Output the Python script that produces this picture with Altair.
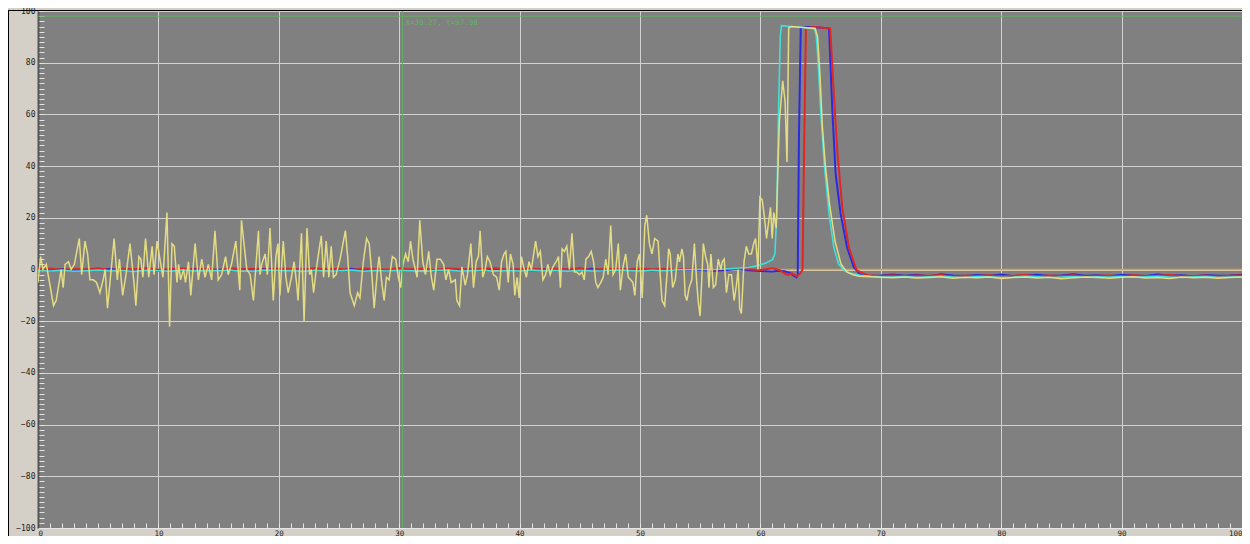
import altair as alt
import pandas as pd

# ---------------- data ----------------
pre_x = list(range(0, 58))
tail_x = list(range(70, 101))

blue_pre = [0.1, -0.3, 0.2, -0.5, 0.0, -0.2, 0.3, -0.4, -0.1, 0.2, -0.5, 0.1, -0.3, 0.3, -0.2,
            0.0, -0.4, 0.2, -0.1, 0.3, -0.5, 0.0, 0.2, -0.3, 0.1, -0.4, 0.3, -0.2, 0.0, -0.5,
            0.2, -0.1, 0.3, -0.4, 0.0, -0.2, 0.1, -0.5, 0.3, -0.1, 0.0, -0.3, 0.2, -0.4, 0.1,
            -0.2, 0.3, -0.5, 0.0, -0.1, 0.2, -0.4, 0.1, -0.3, 0.0, -0.2, -0.5, -0.3]
red_pre = [0.2, 0.4, -0.1, 0.3, 0.0, 0.5, -0.2, 0.3, 0.1, 0.6, -0.1, 0.2, 0.4, 0.0, 0.3,
           -0.2, 0.5, 0.1, 0.3, -0.1, 0.4, 0.2, 0.0, 0.5, 0.1, 0.3, -0.2, 0.4, 0.2, 0.0,
           0.5, 0.1, 0.3, -0.1, 0.4, 0.2, 0.0, 0.3, 0.5, -0.1, 0.2, 0.4, 0.0, 0.3, 0.1,
           0.5, -0.2, 0.3, 0.2, 0.0, 0.4, 0.1, 0.3, -0.1, 0.2, 0.3, 0.0, 0.2]
cyan_pre = [-0.4, -0.6, -0.3, -0.7, -0.5, -0.2, -0.6, -0.4, -0.8, -0.3, -0.5, -0.7, -0.2, -0.6, -0.4,
            -0.5, -0.3, -0.7, -0.6, -0.2, -0.5, -0.4, -0.8, -0.3, -0.6, -0.5, -0.2, -0.7, -0.4, -0.6,
            -0.3, -0.5, -0.8, -0.4, -0.2, -0.6, -0.5, -0.3, -0.7, -0.4, -0.6, -0.2, -0.5, -0.4, -0.7,
            -0.3, -0.6, -0.5, -0.2, -0.4, -0.6, -0.3, -0.5, -0.2, 0.0, 0.1, 0.0, 0.2]

blue_peak_x = [58, 59, 60, 61, 61.5, 62.0, 62.4, 62.8, 63.0, 63.1, 63.2, 63.35, 64.0, 64.8, 65.7,
               65.97, 66.25, 66.66, 67.2, 67.76, 68.3, 69.1]
blue_peak_y = [0.2, -0.3, -0.6, -0.8, -0.5, -0.7, -1.2, -2.5, -3.0, -2.0, 50, 93.5, 93.8, 93.6, 93.3,
               62, 37, 21.6, 8.5, 0.9, -2.0, -2.5]
red_peak_x = [58, 59, 60, 61, 61.6, 62.0, 62.3, 62.6, 63.0, 63.3, 63.5, 63.64, 63.78, 64.5, 65.2,
              65.8, 66.1, 66.4, 66.8, 67.35, 68.0, 68.9]
red_peak_y = [0.3, 0.1, -0.2, 0.5, -0.3, -1.5, -2.2, -1.4, -2.6, -1.6, 0.0, 50, 93.3, 93.8, 93.5,
              93.2, 68, 45, 24, 8.5, -0.4, -2.2]
cyan_peak_x = [58, 59, 59.5, 60, 60.5, 61.0, 61.2, 61.35, 61.5, 61.65, 61.75, 62.5, 63.5, 64.5, 64.65,
               64.8, 65.0, 65.3, 65.7, 66.1, 66.5, 67.0, 67.5, 68.3, 69.2]
cyan_peak_y = [0.5, 0.8, 1.2, 1.8, 2.6, 3.8, 6, 20, 60, 90, 94.3, 94.0, 93.6, 93.2, 90,
               80, 62, 41, 21.6, 8.5, 2, -0.5, -1.5, -2.2, -2.6]

blue_tail = [-2.3, -1.9, -2.4, -2.0, -2.6, -1.8, -2.3, -2.5, -2.1, -2.4, -1.9, -2.6, -2.2, -2.0, -2.5,
             -2.3, -1.8, -2.4, -2.2, -2.6, -2.0, -2.3, -2.5, -1.9, -2.4, -2.2, -2.7, -2.1, -2.4, -2.3, -2.0]
red_tail = [-2.5, -2.2, -2.6, -2.3, -2.4, -2.1, -2.7, -2.3, -2.5, -2.2, -2.6, -2.4, -2.1, -2.6, -2.3,
            -2.5, -2.2, -2.7, -2.4, -2.3, -2.6, -2.2, -2.5, -2.4, -2.1, -2.6, -2.5, -2.3, -2.7, -2.4, -2.2]
cyan_tail = [-2.8, -2.9, -2.7, -3.0, -2.8, -2.6, -2.9, -3.1, -2.7, -2.8, -3.0, -2.9, -2.6, -2.8, -3.1,
             -2.9, -2.7, -3.0, -2.8, -2.9, -2.7, -3.0, -2.8, -2.6, -2.9, -3.1, -2.8, -2.7, -3.0, -2.9, -2.8]
yellow_tail = [-3.0, -3.2, -2.9, -3.3, -3.1, -2.8, -3.4, -3.0, -3.2, -2.9, -3.5, -3.1, -2.9, -3.3, -3.0,
               -3.6, -3.2, -2.9, -3.1, -3.4, -3.0, -2.8, -3.3, -3.1, -3.5, -2.9, -3.2, -3.0, -3.4, -3.1, -2.9]

yellow_x = [0.00, 0.22, 0.41, 0.69, 0.88, 1.29, 1.51, 1.79, 1.92, 2.09, 2.25, 2.53, 2.75, 3.02, 3.43,
            3.63, 3.90, 4.12, 4.31, 4.59, 4.86, 5.14, 5.41, 5.58, 5.77, 6.04, 6.32, 6.59, 6.76, 7.03,
            7.31, 7.64, 7.97, 8.13, 8.38, 8.54, 8.71, 8.93, 9.20, 9.48, 9.64, 9.89, 10.16, 10.38, 10.71,
            10.93, 11.13, 11.32, 11.54, 11.68, 11.84, 12.09, 12.25, 12.50, 12.69, 13.05, 13.32, 13.60, 13.87, 14.15,
            14.42, 14.70, 14.97, 15.25, 15.58, 15.80, 16.07, 16.43, 16.76, 16.90,
            17.34, 17.62, 17.89, 18.31, 18.44, 18.58, 18.86, 19.05, 19.27, 19.54, 19.76, 19.93, 20.09, 20.37, 20.59,
            20.78, 21.05, 21.27, 21.47, 21.60, 21.88, 22.10, 22.34, 22.56, 22.70, 22.89, 23.11, 23.33, 23.53, 23.72,
            23.94, 24.16, 24.35, 24.54, 24.76, 25.09, 25.53, 25.72, 25.92, 26.27, 26.55, 26.74, 27.02, 27.29, 27.51,
            27.73, 27.92, 28.20, 28.33, 28.55, 28.75, 28.94, 29.16, 29.43, 29.71, 29.93, 30.12, 30.31, 30.53, 30.75,
            30.94, 31.14, 31.49, 31.71, 31.96, 32.18, 32.45, 32.67, 32.87, 33.14, 33.42, 33.69, 33.88, 34.10, 34.32,
            34.66, 34.79, 35.01, 35.21, 35.48, 35.67, 35.95, 36.17, 36.39, 36.58, 36.72, 36.94, 37.13, 37.32, 37.54,
            37.82, 38.09, 38.31, 38.50, 38.70, 38.86, 39.05, 39.24, 39.46, 39.60, 39.79, 39.96, 40.15, 40.34, 40.56,
            40.78, 40.98, 41.17, 41.33, 41.52, 41.72, 41.94, 42.16, 42.35, 42.54, 42.76, 43.04, 43.23, 43.39, 43.53,
            43.72, 43.92, 44.13, 44.35, 44.55, 44.74, 44.96, 45.18, 45.37, 45.51, 45.73, 45.95, 46.14, 46.33, 46.50,
            46.75, 46.94, 47.16, 47.35, 47.57, 47.76, 47.98, 48.20, 48.37, 48.59, 48.81, 49.03, 49.22, 49.41, 49.57,
            49.77, 49.96, 50.18, 50.40, 50.56, 50.78, 51.00, 51.22,
            51.50, 51.69, 51.83, 52.05, 52.24, 52.38, 52.51, 52.71, 52.93, 53.15, 53.28, 53.48, 53.61, 53.75, 53.89,
            54.08, 54.30, 54.52, 54.71, 54.85, 54.99, 55.12, 55.26, 55.45, 55.62, 55.73, 55.89, 56.09, 56.28, 56.50,
            56.72, 56.83, 56.99, 57.18, 57.38, 57.60, 57.82, 58.01, 58.15, 58.28, 58.42, 58.64, 58.83, 59.03, 59.25,
            59.44, 59.60, 59.80, 59.96, 60.15, 60.34, 60.51, 60.67, 60.84, 60.98, 61.11, 61.31,
            61.58, 61.85, 62.05, 62.21, 62.35, 62.6, 63.5, 64.55, 64.75, 64.95, 65.15, 65.4, 65.75, 66.2, 66.7,
            67.2, 67.7, 68.2]
yellow_y = [-5, 5, 0, 2, -3, -14, -12, -4, 0, -7, 2, 3, 0, 2, 12,
            -2, 11, 6, -4, -4, -5, -9, -4, 0, -15, -2, 12, -4, 4, -10,
            -2, 10, -5, -14, 5, 4, -3, 12, -3, 9, -2, 11, 3, -3, 22,
            -22, 10, 9, -5, 2, -4, 0, -5, 3, -10, 10, -4, 4, -3, 2,
            -4, 15, -4, -2, 5, -2, 2, 11, -8, 19,
            0, -2, -12, 15, -2, 2, 6, -2, 16, -12, 5, 10, -10, 11, -3,
            -9, -3, 3, -5, -12, 14, -20, 16, -2, 0, -9, 0, 7, 13, -3,
            11, -3, 9, -3, -2, 4, 15, 5, -9, -14, -9, -11, 3, 12, 10,
            -2, -15, 0, 5, -5, -12, -3, -4, 5, 4, -3, -7, 2, 6, 3,
            11, 4, -3, 19, 3, -2, 7, -3, -8, 4, 4, 2, -4, 0, -5,
            -4, -12, -14, 1, -6, -2, 10, -7, 3, 5, 15, -3, 0, 5, 3,
            -2, -3, -8, 3, 6, 7, -5, 6, 2, -10, -3, -11, 5, 1, -3,
            3, 0, 6, 11, 5, 7, -4, -2, 2, -2, 1, 3, 5, -7, 8,
            7, 9, 0, 14, -1, -1, -2, -1, -4, 4, 5, 7, 3, -5, -7,
            -5, -3, 4, -2, 17, -2, 0, 10, -8, 1, 6, -3, -4, -5, -10,
            3, 6, -11, 17, 21, 10, 6, 12,
            11, -3, -12, -14, -2, 8, 6, -7, -4, 6, 3, 8, 5, -10, -12,
            -7, -4, 10, -5, -13, -18, -5, 10, 5, 2, -7, 6, -7, -6, 4,
            0, 3, 4, -9, -2, -2, -12, -6, 0, -15, -17, 3, 9, 6, 6,
            10, 12, 0, 28, 27, 20, 12, 18, 24, 12, 22, 16,
            57.5, 73, 65, 41.6, 93.5, 94.0, 93.6, 93.2, 90, 75, 55, 40, 25, 11, 2,
            -1, -2, -2.6]

orange_x = [0, 100]
orange_y = [0, 0]

cross_x = [30.27]
cross_y = [97.98]
cross_label = ["X=30.27, Y=97.98"]

# ---------------- build tables ----------------
def frame(xs, ys):
    assert len(xs) == len(ys), (len(xs), len(ys))
    return pd.DataFrame({"x": xs, "y": ys})

blue_df = frame(pre_x + blue_peak_x + tail_x, blue_pre + blue_peak_y + blue_tail)
red_df = frame(pre_x + red_peak_x + tail_x, red_pre + red_peak_y + red_tail)
cyan_df = frame(pre_x + cyan_peak_x + tail_x, cyan_pre + cyan_peak_y + cyan_tail)
yellow_df = frame(yellow_x + tail_x, yellow_y + yellow_tail)
orange_df = frame(orange_x, orange_y)
cross_df = pd.DataFrame({"x": cross_x, "y": cross_y, "label": cross_label})
frame_df = pd.DataFrame({"x": [0, 100], "y": [-100, 100]})

# whole chart: 30 + 1204 = 1234 wide (the page's content width, so it is not shrunk),
# 3 + 517 + 8 = 528 tall (fits the window without scrolling)
W, H = 1204, 517
XS = alt.Scale(domain=[0, 100], nice=False, zero=False)
YS = alt.Scale(domain=[-100, 100], nice=False, zero=False)
FONT = "DejaVu Sans Mono"

# main axes (grid + labels)
axes_main = alt.Chart(frame_df).mark_point(opacity=0).encode(
    x=alt.X("x:Q", scale=XS, axis=alt.Axis(
        orient="bottom", values=list(range(0, 101, 10)), grid=True, gridColor="#d2d2d2",
        gridWidth=1, ticks=False, domainColor="#e6e6e6", domainWidth=1,
        labelFont=FONT, labelFontSize=7.5, labelColor="#202020", labelPadding=1,
        labelFlush=True, title=None)),
    y=alt.Y("y:Q", scale=YS, axis=alt.Axis(
        orient="left", values=list(range(-100, 101, 20)), grid=True, gridColor="#d2d2d2",
        gridWidth=1, ticks=False, domainColor="#555555", domainWidth=2,
        labelFont=FONT, labelFontSize=8, labelColor="#202020", labelPadding=3,
        labelFlush=False, title=None)),
)

# minor ticks drawn inside the plot edges
axes_minor = alt.Chart(frame_df).mark_point(opacity=0).encode(
    x=alt.X("x:Q", scale=XS, axis=alt.Axis(
        orient="bottom", values=list(range(0, 101, 1)), grid=False, labels=False,
        domain=False, ticks=True, tickSize=5, tickColor="#e4e4e4", offset=-5, title=None)),
    y=alt.Y("y:Q", scale=YS, axis=alt.Axis(
        orient="left", values=list(range(-100, 101, 2)), grid=False, labels=False,
        domain=False, ticks=True, tickSize=5, tickColor="#e4e4e4", offset=-6, title=None)),
)


def series(df, color, width, opacity=1.0):
    return alt.Chart(df).mark_line(color=color, strokeWidth=width, opacity=opacity, clip=True).encode(
        x=alt.X("x:Q", scale=XS, axis=None),
        y=alt.Y("y:Q", scale=YS, axis=None),
    )


orange = series(orange_df, "#e0a030", 1.6)
blue = series(blue_df, "#2a2ae0", 2.0)
red = series(red_df, "#e02626", 2.0)
cyan = series(cyan_df, "#3fe0d8", 1.6)
yellow = series(yellow_df, "#e9e082", 1.5, 0.95)

vline = alt.Chart(cross_df).mark_rule(color="#62b062", strokeWidth=1, opacity=0.9).encode(
    x=alt.X("x:Q", scale=XS, axis=None))
hline = alt.Chart(cross_df).mark_rule(color="#62b062", strokeWidth=1, opacity=0.9).encode(
    y=alt.Y("y:Q", scale=YS, axis=None))
label = alt.Chart(cross_df).mark_text(
    align="left", baseline="top", dx=3, dy=3, font=FONT, fontSize=7.5, color="#6aae6a"
).encode(
    x=alt.X("x:Q", scale=XS, axis=None),
    y=alt.Y("y:Q", scale=YS, axis=None),
    text="label:N",
)

border_left = alt.Chart(frame_df.head(1)).mark_rule(color="#000000", strokeWidth=1).encode(
    x=alt.value(-29.5), y=alt.value(-1), y2=alt.value(H + 10))
border_top = alt.Chart(frame_df.head(1)).mark_rule(color="#000000", strokeWidth=1).encode(
    x=alt.value(-30), x2=alt.value(W), y=alt.value(-0.5))

chart = alt.layer(
    axes_main, axes_minor, orange, blue, red, cyan, yellow, vline, hline, label,
    border_left, border_top
).resolve_axis(x="independent", y="independent").properties(
    width=W, height=H,
    background="#d4d0c8",
    padding={"left": 30, "top": 3, "right": 0, "bottom": 8},
    autosize=alt.AutoSizeParams(type="none"),
).configure_view(fill="#808080", stroke=None)

chart.save("out.html", embed_options={"renderer": "svg", "actions": False})
